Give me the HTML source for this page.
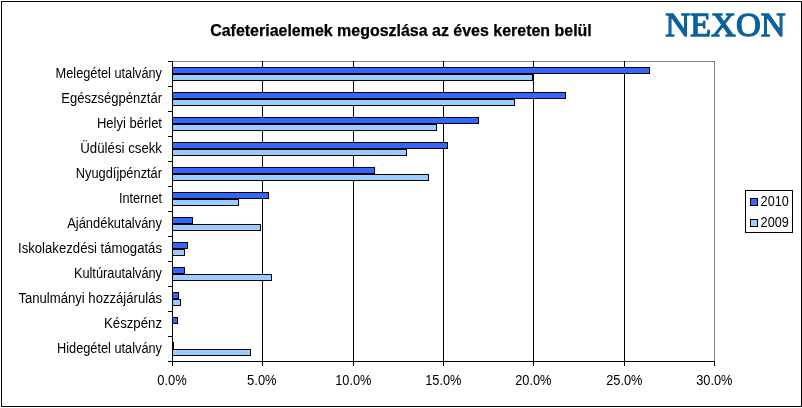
<!DOCTYPE html>
<html lang="hu">
<head>
<meta charset="utf-8">
<title>Cafeteriaelemek megoszlása az éves kereten belül</title>
<style>
html,body{margin:0;padding:0;background:#fff;}
body{width:802px;height:408px;overflow:hidden;position:relative;}
svg{display:block;position:absolute;left:0;top:0;will-change:transform;}
.l{font-family:"Liberation Sans",Arial,sans-serif;font-size:14px;fill:#000;}
.t{font-family:"Liberation Sans",Arial,sans-serif;font-size:16px;font-weight:bold;fill:#000;stroke:#000;stroke-width:0.25px;}
.logo{font-family:"Liberation Serif","Times New Roman",serif;font-size:34.2px;font-weight:normal;fill:#0B629B;stroke:#0B629B;stroke-width:1.3px;stroke-linejoin:round;}
</style>
</head>
<body>
<svg width="802" height="408" viewBox="0 0 802 408">
<rect x="0" y="0" width="802" height="408" fill="#fff"/>
<g shape-rendering="crispEdges">
<rect x="1" y="1" width="801" height="1" fill="#000"/>
<rect x="1" y="406" width="801" height="1" fill="#000"/>
<rect x="1" y="1" width="1" height="406" fill="#000"/>
<rect x="801" y="1" width="1" height="406" fill="#000"/>
<rect x="172" y="61" width="543" height="1" fill="#808080"/>
<rect x="714" y="61" width="1" height="301" fill="#808080"/>
<rect x="262" y="61" width="1" height="300" fill="#000"/>
<rect x="353" y="61" width="1" height="300" fill="#000"/>
<rect x="443" y="61" width="1" height="300" fill="#000"/>
<rect x="533" y="61" width="1" height="300" fill="#000"/>
<rect x="624" y="61" width="1" height="300" fill="#000"/>
<rect x="172" y="67" width="478" height="7" fill="#000"/>
<rect x="173" y="68" width="476" height="5" fill="#3366FF"/>
<rect x="172" y="74" width="361" height="7" fill="#000"/>
<rect x="173" y="75" width="359" height="5" fill="#99CCFF"/>
<rect x="172" y="92" width="394" height="7" fill="#000"/>
<rect x="173" y="93" width="392" height="5" fill="#3366FF"/>
<rect x="172" y="99" width="343" height="7" fill="#000"/>
<rect x="173" y="100" width="341" height="5" fill="#99CCFF"/>
<rect x="172" y="117" width="307" height="7" fill="#000"/>
<rect x="173" y="118" width="305" height="5" fill="#3366FF"/>
<rect x="172" y="124" width="265" height="7" fill="#000"/>
<rect x="173" y="125" width="263" height="5" fill="#99CCFF"/>
<rect x="172" y="142" width="276" height="7" fill="#000"/>
<rect x="173" y="143" width="274" height="5" fill="#3366FF"/>
<rect x="172" y="149" width="235" height="7" fill="#000"/>
<rect x="173" y="150" width="233" height="5" fill="#99CCFF"/>
<rect x="172" y="167" width="203" height="7" fill="#000"/>
<rect x="173" y="168" width="201" height="5" fill="#3366FF"/>
<rect x="172" y="174" width="257" height="7" fill="#000"/>
<rect x="173" y="175" width="255" height="5" fill="#99CCFF"/>
<rect x="172" y="192" width="97" height="7" fill="#000"/>
<rect x="173" y="193" width="95" height="5" fill="#3366FF"/>
<rect x="172" y="199" width="67" height="7" fill="#000"/>
<rect x="173" y="200" width="65" height="5" fill="#99CCFF"/>
<rect x="172" y="217" width="21" height="7" fill="#000"/>
<rect x="173" y="218" width="19" height="5" fill="#3366FF"/>
<rect x="172" y="224" width="89" height="7" fill="#000"/>
<rect x="173" y="225" width="87" height="5" fill="#99CCFF"/>
<rect x="172" y="242" width="16" height="7" fill="#000"/>
<rect x="173" y="243" width="14" height="5" fill="#3366FF"/>
<rect x="172" y="249" width="13" height="7" fill="#000"/>
<rect x="173" y="250" width="11" height="5" fill="#99CCFF"/>
<rect x="172" y="267" width="13" height="7" fill="#000"/>
<rect x="173" y="268" width="11" height="5" fill="#3366FF"/>
<rect x="172" y="274" width="100" height="7" fill="#000"/>
<rect x="173" y="275" width="98" height="5" fill="#99CCFF"/>
<rect x="172" y="292" width="7" height="7" fill="#000"/>
<rect x="173" y="293" width="5" height="5" fill="#3366FF"/>
<rect x="172" y="299" width="9" height="7" fill="#000"/>
<rect x="173" y="300" width="7" height="5" fill="#99CCFF"/>
<rect x="172" y="317" width="6" height="7" fill="#000"/>
<rect x="173" y="318" width="4" height="5" fill="#3366FF"/>
<rect x="172" y="342" width="2" height="7" fill="#000"/>
<rect x="172" y="349" width="79" height="7" fill="#000"/>
<rect x="173" y="350" width="77" height="5" fill="#99CCFF"/>
<rect x="172" y="61" width="1" height="305" fill="#000"/>
<rect x="172" y="361" width="543" height="1" fill="#000"/>
<rect x="168" y="61" width="4" height="1" fill="#000"/>
<rect x="168" y="86" width="4" height="1" fill="#000"/>
<rect x="168" y="111" width="4" height="1" fill="#000"/>
<rect x="168" y="136" width="4" height="1" fill="#000"/>
<rect x="168" y="161" width="4" height="1" fill="#000"/>
<rect x="168" y="186" width="4" height="1" fill="#000"/>
<rect x="168" y="211" width="4" height="1" fill="#000"/>
<rect x="168" y="236" width="4" height="1" fill="#000"/>
<rect x="168" y="261" width="4" height="1" fill="#000"/>
<rect x="168" y="286" width="4" height="1" fill="#000"/>
<rect x="168" y="311" width="4" height="1" fill="#000"/>
<rect x="168" y="336" width="4" height="1" fill="#000"/>
<rect x="168" y="361" width="4" height="1" fill="#000"/>
<rect x="172" y="361" width="1" height="5" fill="#000"/>
<rect x="262" y="361" width="1" height="5" fill="#000"/>
<rect x="353" y="361" width="1" height="5" fill="#000"/>
<rect x="443" y="361" width="1" height="5" fill="#000"/>
<rect x="533" y="361" width="1" height="5" fill="#000"/>
<rect x="624" y="361" width="1" height="5" fill="#000"/>
<rect x="714" y="361" width="1" height="5" fill="#000"/>
<rect x="745.5" y="190.5" width="47" height="42" fill="#fff" stroke="#000" stroke-width="1"/>
<rect x="750.5" y="198.5" width="7" height="7" fill="#3366FF" stroke="#000" stroke-width="1"/>
<rect x="750.5" y="219.5" width="7" height="7" fill="#99CCFF" stroke="#000" stroke-width="1"/>
</g>
<text class="t" x="210.2" y="36" textLength="381.6" lengthAdjust="spacingAndGlyphs">Cafeteriaelemek megoszlása az éves kereten belül</text>
<text class="logo" x="725.4" y="36.4" text-anchor="middle" textLength="120.4" lengthAdjust="spacingAndGlyphs">NEXON</text>
<text class="l" x="55.6" y="77.5" textLength="106.4" lengthAdjust="spacingAndGlyphs">Melegétel utalvány</text>
<text class="l" x="61.3" y="102.5" textLength="100.7" lengthAdjust="spacingAndGlyphs">Egészségpénztár</text>
<text class="l" x="96.9" y="127.5" textLength="65.1" lengthAdjust="spacingAndGlyphs">Helyi bérlet</text>
<text class="l" x="80.3" y="152.5" textLength="81.7" lengthAdjust="spacingAndGlyphs">Üdülési csekk</text>
<text class="l" x="75.8" y="177.5" textLength="86.2" lengthAdjust="spacingAndGlyphs">Nyugdíjpénztár</text>
<text class="l" x="118.9" y="202.5" textLength="43.1" lengthAdjust="spacingAndGlyphs">Internet</text>
<text class="l" x="67.2" y="227.5" textLength="94.8" lengthAdjust="spacingAndGlyphs">Ajándékutalvány</text>
<text class="l" x="18.0" y="252.5" textLength="144.0" lengthAdjust="spacingAndGlyphs">Iskolakezdési támogatás</text>
<text class="l" x="73.9" y="277.5" textLength="88.1" lengthAdjust="spacingAndGlyphs">Kultúrautalvány</text>
<text class="l" x="18.4" y="302.5" textLength="143.6" lengthAdjust="spacingAndGlyphs">Tanulmányi hozzájárulás</text>
<text class="l" x="104.0" y="327.5" textLength="58.0" lengthAdjust="spacingAndGlyphs">Készpénz</text>
<text class="l" x="57.0" y="352.5" textLength="105.0" lengthAdjust="spacingAndGlyphs">Hidegétel utalvány</text>
<text class="l" x="157.2" y="384.9" textLength="29.5" lengthAdjust="spacingAndGlyphs">0.0%</text>
<text class="l" x="247.1" y="384.9" textLength="29.5" lengthAdjust="spacingAndGlyphs">5.0%</text>
<text class="l" x="335.2" y="384.9" textLength="36.3" lengthAdjust="spacingAndGlyphs">10.0%</text>
<text class="l" x="425.2" y="384.9" textLength="36.3" lengthAdjust="spacingAndGlyphs">15.0%</text>
<text class="l" x="515.2" y="384.9" textLength="36.3" lengthAdjust="spacingAndGlyphs">20.0%</text>
<text class="l" x="606.2" y="384.9" textLength="36.3" lengthAdjust="spacingAndGlyphs">25.0%</text>
<text class="l" x="696.2" y="384.9" textLength="36.3" lengthAdjust="spacingAndGlyphs">30.0%</text>
<text class="l" x="760.6" y="205.7" textLength="28.2" lengthAdjust="spacingAndGlyphs">2010</text>
<text class="l" x="760.6" y="226.7" textLength="28.2" lengthAdjust="spacingAndGlyphs">2009</text>
</svg>
</body>
</html>
